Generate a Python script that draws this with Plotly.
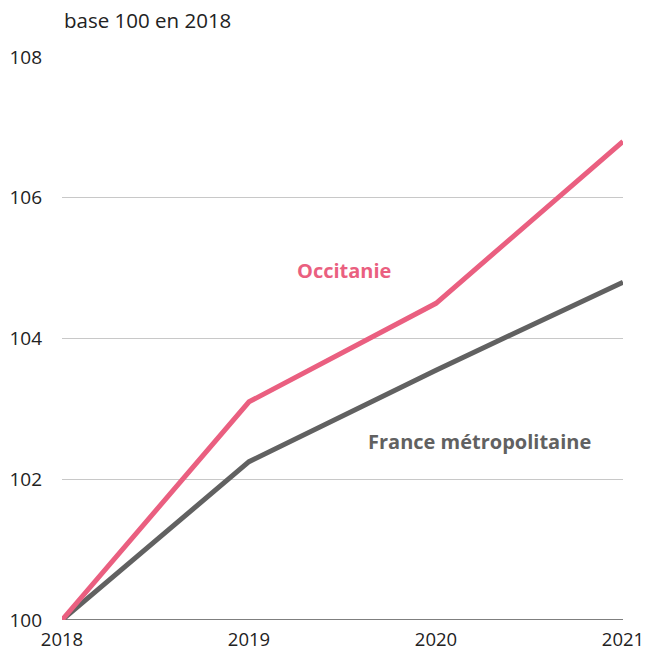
import plotly.graph_objects as go

years = [2018, 2019, 2020, 2021]
occitanie = [100, 103.1, 104.5, 106.8]
france = [100, 102.25, 103.55, 104.8]
y_ticks = [100, 102, 104, 106, 108]

PINK = "#ea5f80"
GREY = "#616161"
FONT = "Open Sans"

fig = go.Figure()
fig.add_trace(go.Scatter(x=years, y=france, mode="lines", line=dict(color=GREY, width=5), name="France métropolitaine", hoverinfo="skip"))
fig.add_trace(go.Scatter(x=years, y=occitanie, mode="lines", line=dict(color=PINK, width=5), name="Occitanie", hoverinfo="skip"))

fig.add_annotation(x=2019.51, y=104.97, text="<b>Occitanie</b>", showarrow=False,
                   font=dict(family=FONT, size=20, color=PINK))
fig.add_annotation(x=2020.235, y=102.53, text="<b>France métropolitaine</b>", showarrow=False,
                   font=dict(family=FONT, size=20, color=GREY))
fig.add_annotation(xref="paper", x=0, xanchor="left", yref="paper", y=1, yanchor="middle", yshift=37,
                   text="base 100 en 2018", showarrow=False,
                   font=dict(family=FONT, size=20.5, color="#222"))

fig.update_layout(
    width=646, height=653,
    margin=dict(l=62, r=23, t=57, b=33, autoexpand=False),
    paper_bgcolor="white", plot_bgcolor="white",
    showlegend=False,
    font=dict(family=FONT, size=19, color="#222"),
)
fig.update_xaxes(range=[2018, 2021], tickvals=years, ticktext=[str(y) for y in years],
                 showgrid=False, zeroline=False, showline=False, ticks="", ticklabelstandoff=6,
                 automargin=False, tickfont=dict(family=FONT, size=18.5, color="#222"))
fig.update_yaxes(range=[100, 108], tickvals=y_ticks, showgrid=True, gridcolor="#c8c8c8", gridwidth=1,
                 zeroline=False, showline=False, ticks="", ticklabelstandoff=19,
                 automargin=False, tickfont=dict(family=FONT, size=19, color="#222"))
fig.add_hline(y=100, line=dict(color="#555555", width=1.5), layer="below")

fig.write_html("out.html", config={"displayModeBar": False},
               post_script="document.body.style.margin='0';document.body.style.overflow='hidden';")
